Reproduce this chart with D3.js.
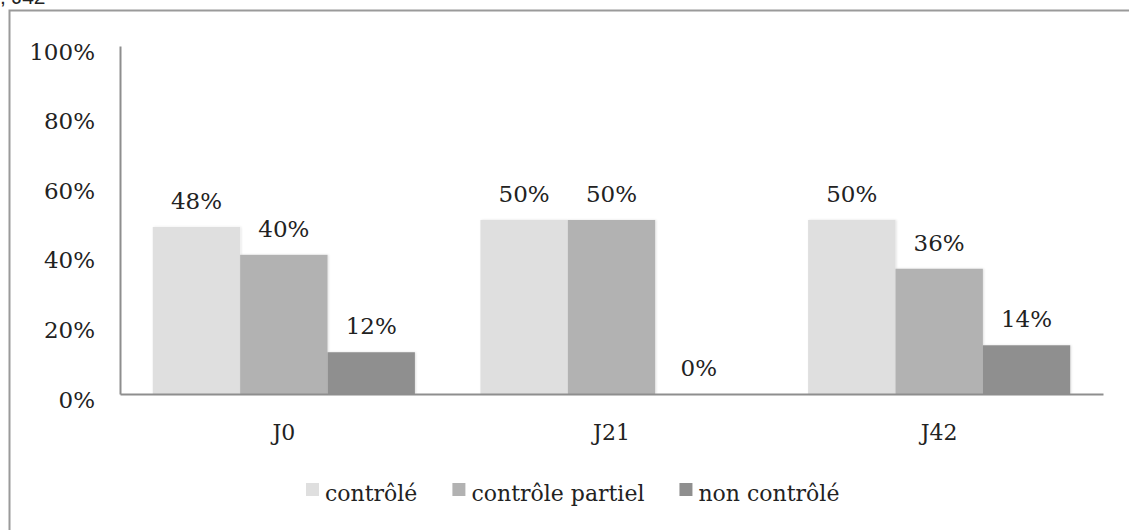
<!DOCTYPE html>
<html lang="fr">
<head>
  <meta charset="utf-8">
  <title>Contrôle J0, J21, J42</title>
  <script src="https://cdnjs.cloudflare.com/ajax/libs/d3/7.8.5/d3.min.js"></script>
  <style>
    body { margin: 0; background: #fff; }
    svg { display: block; }
    text { font-family: "DejaVu Serif", serif; fill: #222; }
  </style>
</head>
<body>
<svg id="chart"></svg>
<script>
// data
var categories = ["J0", "J21", "J42"];
var seriesNames = ["contrôlé", "contrôle partiel", "non contrôlé"];
var controle = [48, 50, 50];
var partiel = [40, 50, 36];
var nonControle = [12, 0, 14];
var yTicks = [0, 20, 40, 60, 80, 100];
var colors = ["#dfdfdf", "#b2b2b2", "#8f8f8f"];

var w = 1129, h = 530;
var plotLeft = 120, plotRight = 1103, plotTop = 46, plotBottom = 394;

var series = [controle, partiel, nonControle];

var svg = d3.select("#chart").attr("width", w).attr("height", h);

// faint shadow under the bars
var defs = svg.append("defs");
defs.append("filter").attr("id", "shadow")
    .attr("x", "-10%").attr("y", "-10%").attr("width", "120%").attr("height", "120%")
  .append("feDropShadow")
    .attr("dx", 1).attr("dy", 0).attr("stdDeviation", 1.2)
    .attr("flood-color", "#000").attr("flood-opacity", 0.12);

// cropped caption at the very top
svg.append("text")
    .attr("x", 0).attr("y", 4)
    .style("font-family", "Liberation Sans, Arial, sans-serif")
    .style("font-size", "21px")
    .text(", J42");

// outer frame (runs off the picture)
svg.append("rect")
    .attr("x", 9.5).attr("y", 10.5)
    .attr("width", 1140).attr("height", 540)
    .attr("fill", "none").attr("stroke", "#9a9a9a").attr("stroke-width", 2);

var x0 = d3.scaleBand().domain(categories).range([plotLeft, plotRight])
    .paddingInner(0.2).paddingOuter(0.1);
var x1 = d3.scaleBand().domain(d3.range(seriesNames.length)).range([0, x0.bandwidth()]);
var y = d3.scaleLinear().domain([0, 100]).range([plotBottom, plotTop]);

// bars
var groups = svg.selectAll("g.grp").data(categories).enter().append("g")
    .attr("class", "grp")
    .attr("transform", function(d) { return "translate(" + x0(d) + ",0)"; });

groups.selectAll("rect").data(function(d, i) {
    return series.map(function(s, k) { return { k: k, v: s[i] }; });
  }).enter().append("rect")
    .attr("x", function(d) { return x1(d.k); })
    .attr("y", function(d) { return y(d.v); })
    .attr("width", x1.bandwidth())
    .attr("height", function(d) { return plotBottom - y(d.v); })
    .attr("fill", function(d) { return colors[d.k]; })
    .attr("filter", "url(#shadow)");

groups.selectAll("text.val").data(function(d, i) {
    return series.map(function(s, k) { return { k: k, v: s[i] }; });
  }).enter().append("text")
    .attr("class", "val")
    .attr("x", function(d) { return x1(d.k) + x1.bandwidth() / 2; })
    .attr("y", function(d) { return y(d.v) - 18; })
    .attr("text-anchor", "middle")
    .style("font-size", "23px")
    .text(function(d) { return d.v + "%"; });

// axes
var yAxis = d3.axisLeft(y).tickValues(yTicks).tickSize(0).tickPadding(25)
    .tickFormat(function(d) { return d + "%"; });
var gy = svg.append("g").attr("transform", "translate(" + plotLeft + ",0)").call(yAxis);
gy.select(".domain").attr("stroke", "#8e8e8e").attr("stroke-width", 2);
gy.selectAll(".tick text")
    .attr("dy", 13)
    .style("font-family", "DejaVu Serif, serif")
    .style("font-size", "23px").attr("fill", "#222");

var xAxis = d3.axisBottom(x0).tickSize(0).tickPadding(46);
var gx = svg.append("g").attr("transform", "translate(0," + plotBottom + ")").call(xAxis);
gx.select(".domain").attr("stroke", "#8e8e8e").attr("stroke-width", 2);
gx.selectAll(".tick text")
    .attr("dy", 0)
    .style("font-family", "DejaVu Serif, serif")
    .style("font-size", "22px").attr("fill", "#222");

// legend
var legend = svg.append("g").attr("transform", "translate(306,0)");
var lx = 0;
seriesNames.forEach(function(name, k) {
  var item = legend.append("g").attr("transform", "translate(" + lx + ",0)");
  item.append("rect").attr("x", 0).attr("y", 483).attr("width", 13).attr("height", 13)
      .attr("fill", colors[k]);
  var t = item.append("text").attr("x", 19).attr("y", 501)
      .style("font-size", "22px").text(name);
  lx += 19 + t.node().getComputedTextLength() + 35;
});
</script>
</body>
</html>
